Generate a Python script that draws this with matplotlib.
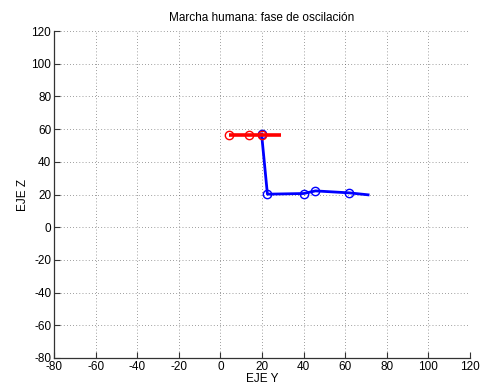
import matplotlib
matplotlib.use("Agg")
import matplotlib.pyplot as plt

# Data
red_line_y = [4.0, 29.0]
red_line_z = [56.5, 56.5]
red_mark_y = [4.3, 13.6, 19.8]
red_mark_z = [56.3, 56.3, 56.6]

blue_y = [19.8, 22.6, 40.0, 45.7, 62.0, 71.0]
blue_z = [57.0, 20.2, 20.6, 22.2, 21.0, 19.8]
blue_mark_y = [19.8, 22.6, 40.0, 45.7, 62.0]
blue_mark_z = [57.0, 20.2, 20.6, 22.2, 21.0]

xticks = list(range(-80, 121, 20))
yticks = list(range(-80, 121, 20))

plt.rcParams['font.family'] = ['Liberation Sans', 'DejaVu Sans']
plt.rcParams['axes.unicode_minus'] = False
fig = plt.figure(figsize=(4.81, 3.90), dpi=100)
ax = fig.add_axes([54/481, 32/390, (470-54)/481, (358-31)/390])

ax.plot(blue_y, blue_z, color='#0000ff', lw=2.0)
ax.plot(blue_mark_y, blue_mark_z, 'o', mfc='none', mec='#0000ff', ms=6, mew=1.0)
ax.plot(red_line_y, red_line_z, color='#ff0000', lw=2.6, solid_capstyle='butt')
ax.plot(red_mark_y, red_mark_z, 'o', mfc='none', mec='#ff0000', ms=6, mew=1.0)

ax.set_xlim(-80, 120)
ax.set_ylim(-80, 120)
ax.set_xticks(xticks)
ax.set_yticks(yticks)
ax.grid(True, color='#444444', linestyle=(0, (1, 3.5)), linewidth=0.5)
ax.spines['top'].set_visible(False)
ax.spines['right'].set_visible(False)
for s in ('left', 'bottom'):
    ax.spines[s].set_linewidth(0.9)
    ax.spines[s].set_color('#333333')
ax.tick_params(direction='in', top=False, right=False, labelsize=8.5, length=4,
               pad=2, color='#333333')
ax.set_xlabel('EJE Y', fontsize=8.5, labelpad=0)
ax.set_ylabel('EJE Z', fontsize=8.5, labelpad=2)
ax.set_title('Marcha humana: fase de oscilación', fontsize=8.5, pad=7)

fig.savefig('out.png', dpi=100)
